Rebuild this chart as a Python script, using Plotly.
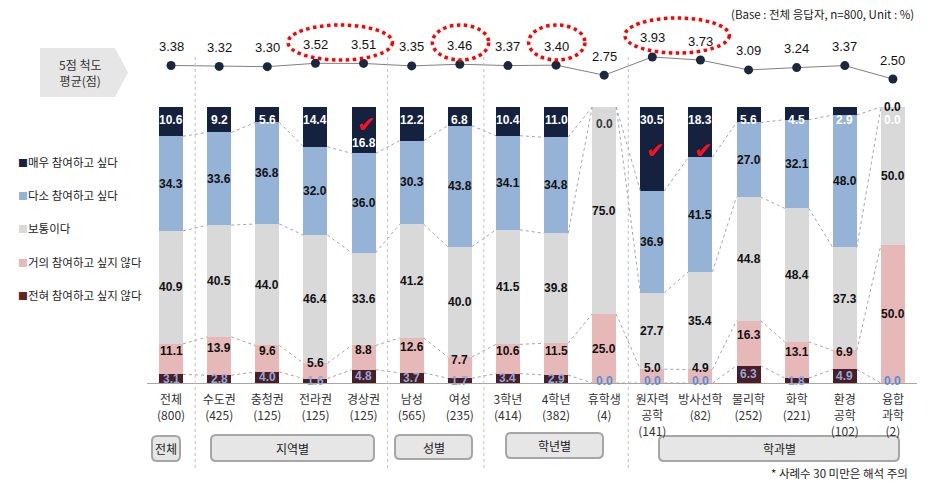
import plotly.graph_objects as go

# ---------------- data ----------------
categories = ["전체<br>(800)", "수도권<br>(425)", "충청권<br>(125)", "전라권<br>(125)", "경상권<br>(125)",
              "남성<br>(565)", "여성<br>(235)", "3학년<br>(414)", "4학년<br>(382)", "휴학생<br>(4)",
              "원자력<br>공학<br>(141)", "방사선학<br>(82)", "물리학<br>(252)", "화학<br>(221)",
              "환경<br>공학<br>(102)", "융합<br>과학<br>(2)"]
very = [10.6, 9.2, 5.6, 14.4, 16.8, 12.2, 6.8, 10.4, 11.0, 0.0, 30.5, 18.3, 5.6, 4.5, 2.9, 0.0]
somewhat = [34.3, 33.6, 36.8, 32.0, 36.0, 30.3, 43.8, 34.1, 34.8, 0.0, 36.9, 41.5, 27.0, 32.1, 48.0, 0.0]
neutral = [40.9, 40.5, 44.0, 46.4, 33.6, 41.2, 40.0, 41.5, 39.8, 75.0, 27.7, 35.4, 44.8, 48.4, 37.3, 50.0]
hardly = [11.1, 13.9, 9.6, 5.6, 8.8, 12.6, 7.7, 10.6, 11.5, 25.0, 5.0, 4.9, 16.3, 13.1, 6.9, 50.0]
never = [3.1, 2.8, 4.0, 1.6, 4.8, 3.7, 1.7, 3.4, 2.9, 0.0, 0.0, 0.0, 6.3, 1.8, 4.9, 0.0]
means = [3.38, 3.32, 3.30, 3.52, 3.51, 3.35, 3.46, 3.37, 3.40, 2.75, 3.93, 3.73, 3.09, 3.24, 3.37, 2.50]
series_names = ["매우 참여하고 싶다", "다소 참여하고 싶다", "보통이다", "거의 참여하고 싶지 않다", "전혀 참여하고 싶지 않다"]
group_names = ["전체", "지역별", "성별", "학년별", "학과별"]
highlight_groups = [[3, 4], [6], [8], [10, 11]]
checked = [4, 10, 11]

# ---------------- styles ----------------
C_VERY = "#14223F"
C_SOME = "#95B3D7"
C_NEUT = "#D9D9D9"
C_HARD = "#E6B9B8"
C_NEVER = "#4A1D27"
series_colors = [C_VERY, C_SOME, C_NEUT, C_HARD, "#632523"]
NUM_FONT = "Liberation Sans, Arial, sans-serif"
KR_FONT = "Noto Sans CJK KR, Liberation Sans, sans-serif"

W, H = 932, 486
ML, MR, MT, MB = 147, 15, 40, 103
PW, PH = W - ML - MR, H - MT - MB


def px(xp):
    return (xp - ML) / PW


def py(yp):
    return (H - MB - yp) / PH


BAR_TOP = 107
bar_dom_top = py(BAR_TOP)
very_label_shift = {4: -36}
check_y = {4: 124, 10: 150, 11: 150}

x = list(range(len(categories)))
fig = go.Figure()

stack = [(never, C_NEVER), (hardly, C_HARD), (neutral, C_NEUT), (somewhat, C_SOME), (very, C_VERY)]
for vals, col in stack:
    fig.add_trace(go.Bar(x=x, y=vals, width=0.5, marker=dict(color=col, line=dict(width=0)),
                         showlegend=False, hoverinfo="skip"))

# connector (series) lines
levels = []
cum = [0.0] * len(x)
for vals, _ in stack[:-1]:
    cum = [c + v for c, v in zip(cum, vals)]
    levels.append(list(cum))
for lev in levels:
    xs, ys = [], []
    for i in range(len(x) - 1):
        xs += [x[i] + 0.25, x[i + 1] - 0.25, None]
        ys += [lev[i], lev[i + 1], None]
    fig.add_trace(go.Scatter(x=xs, y=ys, mode="lines", line=dict(color="#A6A6A6", width=1, dash="dot"),
                             showlegend=False, hoverinfo="skip"))

# mean line
fig.add_trace(go.Scatter(x=x, y=means, yaxis="y2", mode="lines+markers",
                         line=dict(color="#808080", width=1),
                         marker=dict(size=9, color="#1A2740"), showlegend=False, hoverinfo="skip"))

ann = []
for i in x:
    # mean labels
    ann.append(dict(x=i, y=means[i], xref="x", yref="y2", text=f"{means[i]:.2f}", showarrow=False,
                    xanchor="center", yanchor="middle",
                    yshift=19, font=dict(family=NUM_FONT, size=13, color="#111111")))
    b0 = never[i]
    b1 = b0 + hardly[i]
    b2 = b1 + neutral[i]
    lab = []
    # never
    if never[i] == 0:
        lab.append((0, "#558ED5", 2, never[i]))
    else:
        lab.append((b0 / 2, "#8EA9DB", 0, never[i]))
    # hardly
    lab.append((b0 + hardly[i] / 2, "#111111", 8 if hardly[i] < 20 else 0, hardly[i]))
    # neutral
    lab.append((b1 + neutral[i] / 2, "#111111", 0, neutral[i]))
    # somewhat
    if somewhat[i] == 0:
        if very[i] == 0 and i == 9:
            lab.append((100, "#3A3A3A", -17, somewhat[i]))
        else:
            lab.append((100, "#FFFFFF", -13, somewhat[i]))
    else:
        lab.append((b2 + somewhat[i] / 2, "#111111", 0, somewhat[i]))
    # very
    if very[i] == 0:
        if i != 9:
            lab.append((100, "#111111", 0, very[i]))
    else:
        lab.append((100, "#FFFFFF", very_label_shift.get(i, -13), very[i]))
    for yy, col, ys, v in lab:
        ann.append(dict(x=i, y=yy, xref="x", yref="y", text=f"<b>{v:.1f}</b>", showarrow=False,
                        xanchor="center", yanchor="middle",
                        yshift=ys, font=dict(family=NUM_FONT, size=12, color=col)))

# check marks
for i in checked:
    ann.append(dict(x=i + 0.05, y=py(check_y[i]), xref="x", yref="paper", text="✔",
                    xanchor="center", yanchor="middle",
                    showarrow=False, font=dict(family="DejaVu Sans", size=22, color="#FF1020")))

# legend (manual)
leg_y = [162, 195, 228, 262, 295]
for name, col, yy in zip(series_names, series_colors, leg_y):
    ann.append(dict(x=px(16), y=py(yy), xref="paper", yref="paper", xanchor="left", yanchor="middle",
                    text=f"<span style='color:{col};font-size:10px'>■</span>{name}", showarrow=False,
                    font=dict(family=KR_FONT, size=11.5, color="#222222")))

# left box label
ann.append(dict(x=px(80), y=py(72), xref="paper", yref="paper", text="5점 척도<br>평균(점)",
                xanchor="center", yanchor="middle",
                showarrow=False, font=dict(family=KR_FONT, size=12, color="#333333")))

# base note / footnote
ann.append(dict(x=px(916), y=py(14), xref="paper", yref="paper", xanchor="right", yanchor="middle",
                text="(Base : 전체 응답자, n=800, Unit : %)", showarrow=False,
                font=dict(family=KR_FONT, size=11.5, color="#222222")))
ann.append(dict(x=px(910), y=py(473), xref="paper", yref="paper", xanchor="right", yanchor="middle",
                text="* 사례수 30 미만은 해석 주의", showarrow=False,
                font=dict(family=KR_FONT, size=11.5, color="#222222")))

shapes = []


def rrect(x0, y0, x1, y1, r=5):
    X0, X1 = px(x0), px(x1)
    Y0, Y1 = py(y0), py(y1)  # Y0 top (larger), Y1 bottom
    rx, ry = r / PW, r / PH
    return (f"M {X0+rx},{Y0} L {X1-rx},{Y0} Q {X1},{Y0} {X1},{Y0-ry} L {X1},{Y1+ry} "
            f"Q {X1},{Y1} {X1-rx},{Y1} L {X0+rx},{Y1} Q {X0},{Y1} {X0},{Y1+ry} L {X0},{Y0-ry} "
            f"Q {X0},{Y0} {X0+rx},{Y0} Z")


group_boxes = [(152, 436, 180, 461), (211, 435, 374, 461), (395, 435, 472, 459), (506, 433, 603, 458),
               (659, 436, 899, 461)]
for (x0, y0, x1, y1), name in zip(group_boxes, group_names):
    shapes.append(dict(type="path", path=rrect(x0, y0, x1, y1), xref="paper", yref="paper",
                       fillcolor="#E6E6E6", line=dict(color="#A6A6A6", width=2), layer="below"))
    ann.append(dict(x=px((x0 + x1) / 2), y=py((y0 + y1) / 2), xref="paper", yref="paper",
                    xanchor="center", yanchor="middle",
                    text=name, showarrow=False, font=dict(family=KR_FONT, size=12, color="#222222")))

# group separators
for sx in [0.5, 4.5, 6.5, 9.5]:
    shapes.append(dict(type="line", x0=sx, x1=sx, xref="x", y0=py(57), y1=py(470), yref="paper",
                       line=dict(color="#BFBFBF", width=1, dash="dot")))

# left pentagon box
P = [(40, 48), (115, 48), (128, 72.5), (115, 97), (40, 97)]
path = "M " + " L ".join(f"{px(a)},{py(b)}" for a, b in P) + " Z"
shapes.append(dict(type="path", path=path, xref="paper", yref="paper", fillcolor="#E6E6E6",
                   line=dict(width=0), layer="below"))

# red dotted highlight ellipses
for g in highlight_groups:
    lo, hi = min(g), max(g)
    shapes.append(dict(type="circle", xref="x", yref="paper", x0=lo - 0.57, x1=hi + 0.6,
                       y0=py(60 if lo != 10 else 53), y1=py(25 if lo != 10 else 18),
                       line=dict(color="#FF0000", width=3.5, dash="dot")))

fig.update_layout(
    width=W, height=H, margin=dict(l=ML, r=MR, t=MT, b=MB),
    paper_bgcolor="white", plot_bgcolor="white",
    barmode="stack", bargap=0.5,
    xaxis=dict(range=[-0.5, 15.5], tickvals=x, ticktext=categories, showgrid=False, zeroline=False,
               showline=True, linecolor="#A6A6A6", linewidth=1, ticks="", ticklabelstandoff=6,
               tickfont=dict(family=KR_FONT, size=12, color="#333333"), fixedrange=True),
    yaxis=dict(range=[0, 100], domain=[0, bar_dom_top], visible=False, fixedrange=True),
    yaxis2=dict(range=[1.14, 5.03], domain=[py(100), 1], anchor="x", visible=False, fixedrange=True),
    annotations=ann, shapes=shapes, showlegend=False,
)

fig.write_html("out.html")
